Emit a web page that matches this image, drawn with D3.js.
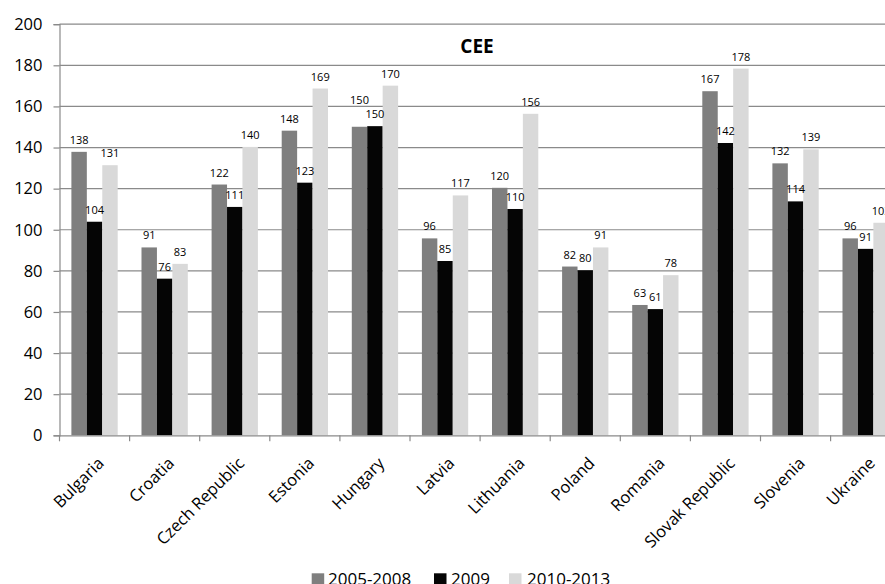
<!DOCTYPE html>
<html>
<head>
<meta charset="utf-8">
<script src="https://cdn.jsdelivr.net/npm/d3@7"></script>
<style>
  html, body { margin: 0; padding: 0; background: #fff; }
  svg { display: block; font-family: "Open Sans", "Liberation Sans", sans-serif; }
</style>
</head>
<body>
<svg id="chart" width="885" height="584"></svg>
<script>
const categories = ["Bulgaria", "Croatia", "Czech Republic", "Estonia", "Hungary", "Latvia",
  "Lithuania", "Poland", "Romania", "Slovak Republic", "Slovenia", "Ukraine"];
const seriesNames = ["2005-2008", "2009", "2010-2013"];
const values2005_2008 = [137.9, 91.4, 122.0, 148.2, 150.1, 95.8, 120.4, 82.1, 63.4, 167.4, 132.3, 95.8];
const values2009      = [103.9, 76.2, 111.1, 122.9, 150.4, 84.8, 110.1, 80.3, 61.4, 142.2, 113.8, 90.7];
const values2010_2013 = [131.4, 83.4, 140.3, 168.7, 170.1, 116.7, 156.4, 91.4, 77.9, 178.4, 139.1, 103.4];
const yTicks = [0, 20, 40, 60, 80, 100, 120, 140, 160, 180, 200];
const title = "CEE";

const seriesValues = [values2005_2008, values2009, values2010_2013];
const colors = ["#7f7f7f", "#050505", "#d9d9d9"];

const svg = d3.select("#chart");
const plotLeft = 59.5, plotTop = 24.2, plotBottom = 435.3;
const step = 70.1;
const plotRight = plotLeft + step * categories.length;

const x = d3.scaleBand().domain(categories).range([plotLeft, plotRight]).padding(0);
const groupW = 46.3;
const xs = d3.scaleBand().domain(seriesNames)
  .range([(x.bandwidth() - groupW) / 2, (x.bandwidth() + groupW) / 2]).padding(0);
const y = d3.scaleLinear().domain([0, 200]).range([plotBottom, plotTop]);

const gridColor = "#8a8a8a";

// gridlines
svg.append("g").selectAll("line").data(yTicks.filter(t => t > 0)).join("line")
  .attr("x1", plotLeft).attr("x2", 885)
  .attr("y1", d => y(d)).attr("y2", d => y(d))
  .attr("stroke", gridColor).attr("stroke-width", 1.2);

// y axis
const yAxis = d3.axisLeft(y).tickValues(yTicks).tickSize(6).tickPadding(11);
const gy = svg.append("g").attr("transform", `translate(${plotLeft},0)`).call(yAxis);
gy.select(".domain").attr("stroke", gridColor).attr("stroke-width", 1.2);
gy.selectAll(".tick line").attr("stroke", gridColor).attr("stroke-width", 1.2);
gy.selectAll(".tick text").attr("font-size", 16.5).attr("fill", "#000")
  .attr("font-family", "Open Sans");

// bars
const groups = svg.append("g").selectAll("g").data(categories).join("g")
  .attr("transform", d => `translate(${x(d)},0)`);
groups.selectAll("rect").data((c, i) => seriesNames.map((s, j) => ({ s, v: seriesValues[j][i], j })))
  .join("rect")
  .attr("x", d => xs(d.s)).attr("width", xs.bandwidth())
  .attr("y", d => y(d.v)).attr("height", d => y(0) - y(d.v))
  .attr("fill", d => colors[d.j]);

// data labels with simple collision avoidance (earlier label moves up)
const labelFont = 11, digitW = 6.3;
groups.each(function (c, i) {
  const items = seriesNames.map((s, j) => {
    const v = seriesValues[j][i];
    const txt = String(Math.round(v));
    return { s, v, j, txt, cx: xs(s) + xs.bandwidth() / 2, ly: y(v) - 8, w: txt.length * digitW };
  });
  for (let j = items.length - 2; j >= 0; j--) {
    const a = items[j], b = items[j + 1];
    const hOverlap = Math.abs(a.cx - b.cx) < (a.w + b.w) / 2;
    const vOverlap = Math.abs(a.ly - b.ly) < 12;
    if (hOverlap && vOverlap) a.ly = Math.min(a.ly, b.ly - 14.3);
  }
  d3.select(this).selectAll("text.lbl").data(items).join("text")
    .attr("class", "lbl")
    .attr("x", d => d.cx).attr("y", d => d.ly)
    .attr("text-anchor", "middle")
    .attr("font-size", labelFont).attr("fill", "#000")
    .text(d => d.txt);
});

// x axis
const xAxis = d3.axisBottom(x).tickSize(0).tickFormat("");
const gx = svg.append("g").attr("transform", `translate(0,${plotBottom})`).call(xAxis);
gx.select(".domain").attr("stroke", gridColor).attr("stroke-width", 1.2);
// boundary tick marks
svg.append("g").selectAll("line").data(d3.range(categories.length + 1)).join("line")
  .attr("x1", i => plotLeft + i * x.step()).attr("x2", i => plotLeft + i * x.step())
  .attr("y1", plotBottom).attr("y2", plotBottom + 6)
  .attr("stroke", gridColor).attr("stroke-width", 1.2);

// category labels
svg.append("g").selectAll("text").data(categories).join("text")
  .attr("transform", d => `translate(${x(d) + x.bandwidth() / 2 + 10.5},${plotBottom + 29}) rotate(-45)`)
  .attr("text-anchor", "end")
  .attr("font-size", 16.5).attr("fill", "#000")
  .text(d => d);

// title
svg.append("text").attr("x", 477).attr("y", 52.5).attr("text-anchor", "middle")
  .attr("font-size", 19).attr("font-weight", "bold").attr("fill", "#000")
  .text(title);

// legend
const legendItems = [
  { name: seriesNames[0], sx: 311.7, tx: 328 },
  { name: seriesNames[1], sx: 434, tx: 451 },
  { name: seriesNames[2], sx: 509, tx: 527 }
];
const lg = svg.append("g");
lg.selectAll("rect").data(legendItems).join("rect")
  .attr("x", d => d.sx).attr("y", 573.3).attr("width", 12.5).attr("height", 12.5)
  .attr("fill", (d, i) => colors[i]);
lg.selectAll("text").data(legendItems).join("text")
  .attr("x", d => d.tx).attr("y", 584.5)
  .attr("font-size", 17).attr("fill", "#000")
  .text(d => d.name);
</script>
</body>
</html>
